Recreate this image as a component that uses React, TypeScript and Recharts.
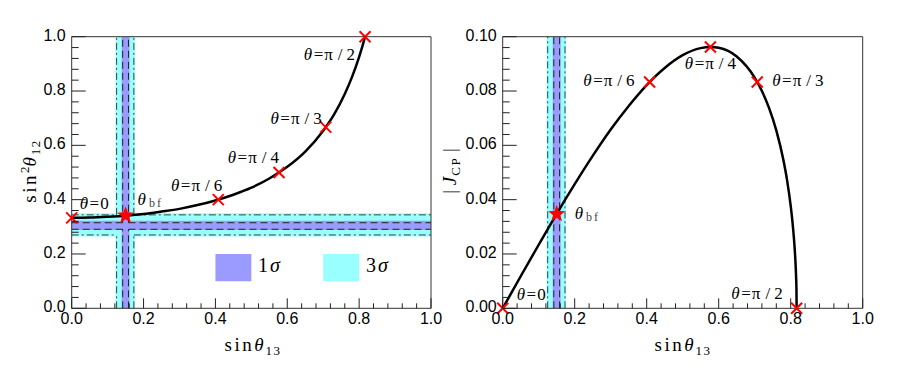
import React from "react"
import { ComposedChart, Line, Scatter, XAxis, YAxis, ReferenceArea, ReferenceLine } from "recharts"

// curve: TM2-like relation
const s13Left = [0, 0.05, 0.1, 0.15, 0.2, 0.25, 0.3, 0.35, 0.4, 0.45, 0.5, 0.55, 0.6, 0.65, 0.7, 0.73, 0.76, 0.78, 0.8, 0.81, 0.8165]
const s12sq = [0.333, 0.334, 0.337, 0.341, 0.347, 0.356, 0.366, 0.38, 0.397, 0.418, 0.444, 0.478, 0.521, 0.577, 0.654, 0.713, 0.789, 0.851, 0.926, 0.969, 1.0]

const s13Right = [0, 0.05, 0.1, 0.15, 0.2, 0.25, 0.3, 0.35, 0.4, 0.45, 0.5, 0.55, 0.577, 0.6, 0.65, 0.7, 0.72, 0.74, 0.76, 0.78, 0.79, 0.8, 0.805, 0.81, 0.813, 0.815, 0.816, 0.8165]
const jcp = [0, 0.0118, 0.0234, 0.0348, 0.0457, 0.0561, 0.0658, 0.0745, 0.0822, 0.0885, 0.0932, 0.0958, 0.0962, 0.0959, 0.0927, 0.0849, 0.08, 0.0737, 0.0655, 0.0544, 0.0471, 0.0377, 0.0317, 0.024, 0.0177, 0.0116, 0.0067, 0]

// marked theta values
const thetaNames = ["0", "π/6", "π/4", "π/3", "π/2"]
const thetaS13 = [0, 0.408, 0.577, 0.707, 0.8165]
const thetaS12sq = [0.333, 0.4, 0.5, 0.667, 1.0]
const thetaJ = [0, 0.0833, 0.0962, 0.0833, 0]

// best fit
const bfS13 = 0.15
const bfS12sq = 0.342
const bfJ = 0.0347

// experimental ranges: shaded regions and their contour lines
const s13Fill1 = [0.139, 0.161]
const s13Fill3 = [0.122, 0.176]
const s13Line1 = [0.142, 0.158]
const s13Line3 = [0.125, 0.173]
const s12Fill1 = [0.288, 0.322]
const s12Fill3 = [0.264, 0.35]
const s12Line1 = [0.291, 0.315]
const s12Line3 = [0.27, 0.344]

// ticks
const xMajor = [0, 0.2, 0.4, 0.6, 0.8, 1.0]
const xMinor = [0.04, 0.08, 0.12, 0.16, 0.24, 0.28, 0.32, 0.36, 0.44, 0.48, 0.52, 0.56, 0.64, 0.68, 0.72, 0.76, 0.84, 0.88, 0.92, 0.96]
const yLeftMajor = xMajor
const yLeftMinor = xMinor
const yRightMajor = [0, 0.02, 0.04, 0.06, 0.08, 0.1]
const yRightMinor = [0.004, 0.008, 0.012, 0.016, 0.024, 0.028, 0.032, 0.036, 0.044, 0.048, 0.052, 0.056, 0.064, 0.068, 0.072, 0.076, 0.084, 0.088, 0.092, 0.096]

const leftCurve = s13Left.map((x, i) => ({ x, y: s12sq[i] }))
const rightCurve = s13Right.map((x, i) => ({ x, y: jcp[i] }))
const leftPts = thetaNames.map((name, i) => ({ x: thetaS13[i], y: thetaS12sq[i], name }))
const rightPts = thetaNames.map((name, i) => ({ x: thetaS13[i], y: thetaJ[i], name }))

const PURPLE = "#9b9bff"
const CYAN = "#99ffff"
const EDGE = "#2b4747"
const SERIF = "'Liberation Serif', 'DejaVu Serif', serif"
const SANS = "'Liberation Sans', Arial, sans-serif"

// label placement relative to marker: dx, dy, anchor
const leftLayout = [
  { dx: 8, dy: -9, anchor: "start" },
  { dx: 4, dy: -9, anchor: "end" },
  { dx: 0, dy: -10, anchor: "end" },
  { dx: -4, dy: -3, anchor: "end" },
  { dx: -10, dy: 23, anchor: "end" },
]
const rightLayout = [
  { dx: 14, dy: -8, anchor: "start" },
  { dx: -15, dy: 4, anchor: "end" },
  { dx: 0, dy: 22, anchor: "middle" },
  { dx: 15, dy: 4, anchor: "start" },
  { dx: -14, dy: -9, anchor: "end" },
]

function ThetaText({ x, y, anchor, value }: any) {
  const parts = value.split("/")
  return (
    <text x={x} y={y} textAnchor={anchor} fontFamily={SERIF} fontSize={17} fill="#000">
      <tspan fontStyle="italic">θ</tspan>
      <tspan dx={1.5}>=</tspan>
      <tspan dx={1}>{parts[0]}</tspan>
      {parts.length > 1 && <tspan dx={5}>/</tspan>}
      {parts.length > 1 && <tspan dx={4}>{parts[1]}</tspan>}
    </text>
  )
}

function BfText({ x, y }: any) {
  return (
    <text x={x} y={y} fontFamily={SERIF} fontSize={17} fill="#000">
      <tspan fontStyle="italic">θ</tspan>
      <tspan dx={3} dy={2} fontSize={12} fill="#444" letterSpacing={2}>bf</tspan>
    </text>
  )
}

function Cross({ cx, cy }: any) {
  const r = 5.5
  return (
    <g stroke="#ff0000" strokeWidth={2}>
      <line x1={cx - r} y1={cy - r} x2={cx + r} y2={cy + r} />
      <line x1={cx - r} y1={cy + r} x2={cx + r} y2={cy - r} />
    </g>
  )
}

function Star({ cx, cy }: any) {
  const pts: string[] = []
  for (let k = 0; k < 10; k++) {
    const r = k % 2 === 0 ? 9 : 3.8
    const a = -Math.PI / 2 + (k * Math.PI) / 5
    pts.push(`${cx + r * Math.cos(a)},${cy + r * Math.sin(a)}`)
  }
  return <polygon points={pts.join(" ")} fill="#ff0000" />
}

function makePointShape(layout: any[]) {
  return (props: any) => {
    const { cx, cy, index } = props
    const l = layout[index]
    return (
      <g>
        <Cross cx={cx} cy={cy} />
        <ThetaText x={cx + l.dx} y={cy + l.dy} anchor={l.anchor} value={props.payload.name} />
      </g>
    )
  }
}

function makeTick(side: string, majors: number[], majorLen: number, minorLen: number, digits: number | null) {
  return (props: any) => {
    const { x, y, payload } = props
    const v = payload.value
    const major = majors.includes(v)
    const len = major ? majorLen : minorLen
    let line
    if (side === "bottom") line = <line x1={x} x2={x} y1={y} y2={y - len} />
    else if (side === "top") line = <line x1={x} x2={x} y1={y} y2={y + len} />
    else if (side === "left") line = <line x1={x} x2={x + len} y1={y} y2={y} />
    else line = <line x1={x} x2={x - len} y1={y} y2={y} />
    let label = null
    if (major && digits !== null) {
      if (side === "bottom")
        label = (
          <text x={x} y={y + 16} textAnchor="middle" fontFamily={SANS} fontSize={16} fill="#000" stroke="none">
            {v.toFixed(digits)}
          </text>
        )
      else
        label = (
          <text x={x - 6} y={y + 4} textAnchor="end" fontFamily={SANS} fontSize={16} fill="#000" stroke="none">
            {v.toFixed(digits)}
          </text>
        )
    }
    return (
      <g stroke="#222" strokeWidth={1}>
        {line}
        {label}
      </g>
    )
  }
}

const xTicks = [...xMajor, ...xMinor].sort((a, b) => a - b)
const yLTicks = [...yLeftMajor, ...yLeftMinor].sort((a, b) => a - b)
const yRTicks = [...yRightMajor, ...yRightMinor].sort((a, b) => a - b)

function Axes({ yTicks, yMajor, yDomain, yDigits }: any) {
  const axisLine = { stroke: "#333", strokeWidth: 1 }
  return [
    <XAxis key="xb" xAxisId={0} type="number" dataKey="x" domain={[0, 1]} ticks={xTicks} interval={0} height={1}
      tickSize={0} tickMargin={0} tickLine={false} axisLine={axisLine} tick={makeTick("bottom", xMajor, 10, 5, 1)} />,
    <XAxis key="xt" xAxisId="top" orientation="top" type="number" dataKey="x" domain={[0, 1]} ticks={xTicks} interval={0} height={1}
      tickSize={0} tickMargin={0} tickLine={false} axisLine={axisLine} tick={makeTick("top", xMajor, 10, 5, null)} />,
    <YAxis key="yl" yAxisId={0} type="number" domain={yDomain} ticks={yTicks} interval={0} width={1}
      tickSize={0} tickMargin={0} tickLine={false} axisLine={axisLine} tick={makeTick("left", yMajor, 14, 7, yDigits)} />,
    <YAxis key="yr" yAxisId="right" orientation="right" type="number" domain={yDomain} ticks={yTicks} interval={0} width={1}
      tickSize={0} tickMargin={0} tickLine={false} axisLine={axisLine} tick={makeTick("right", yMajor, 14, 7, null)} />,
  ]
}

function LeftPanel() {
  const [a1, b1] = s13Line1
  const [a3, b3] = s13Line3
  const [c1, d1] = s12Line1
  const [c3, d3] = s12Line3
  const dash = "7 4"
  const dashDot = "7 3 2 3"
  return (
    <ComposedChart width={450} height={372} margin={{ top: 35.7, right: 18, bottom: 62.7, left: 70.7 }}>
      {Axes({ yTicks: yLTicks, yMajor: yLeftMajor, yDomain: [0, 1], yDigits: 1 })}
      <ReferenceArea x1={0} x2={1} y1={s12Fill3[0]} y2={s12Fill3[1]} fill={CYAN} fillOpacity={1} stroke="none" />
      <ReferenceArea x1={s13Fill3[0]} x2={s13Fill3[1]} y1={0} y2={1} fill={CYAN} fillOpacity={1} stroke="none" />
      <ReferenceArea x1={0} x2={1} y1={s12Fill1[0]} y2={s12Fill1[1]} fill={PURPLE} fillOpacity={1} stroke="none" />
      <ReferenceArea x1={s13Fill1[0]} x2={s13Fill1[1]} y1={0} y2={1} fill={PURPLE} fillOpacity={1} stroke="none" />
      {/* outline of the union of both bands */}
      {[c3, d3].map((yv, i) => (
        <ReferenceLine key={"h3a" + i} segment={[{ x: 0, y: yv }, { x: a3, y: yv }]} stroke={EDGE} strokeDasharray={dashDot} />
      ))}
      {[c3, d3].map((yv, i) => (
        <ReferenceLine key={"h3b" + i} segment={[{ x: b3, y: yv }, { x: 1, y: yv }]} stroke={EDGE} strokeDasharray={dashDot} />
      ))}
      {[a3, b3].map((xv, i) => (
        <ReferenceLine key={"v3a" + i} segment={[{ x: xv, y: 0 }, { x: xv, y: c3 }]} stroke={EDGE} strokeDasharray={dashDot} />
      ))}
      {[a3, b3].map((xv, i) => (
        <ReferenceLine key={"v3b" + i} segment={[{ x: xv, y: d3 }, { x: xv, y: 1 }]} stroke={EDGE} strokeDasharray={dashDot} />
      ))}
      {[c1, d1].map((yv, i) => (
        <ReferenceLine key={"h1a" + i} segment={[{ x: 0, y: yv }, { x: a1, y: yv }]} stroke="#222" strokeDasharray={dash} />
      ))}
      {[c1, d1].map((yv, i) => (
        <ReferenceLine key={"h1b" + i} segment={[{ x: b1, y: yv }, { x: 1, y: yv }]} stroke="#222" strokeDasharray={dash} />
      ))}
      {[a1, b1].map((xv, i) => (
        <ReferenceLine key={"v1a" + i} segment={[{ x: xv, y: 0 }, { x: xv, y: c1 }]} stroke="#222" strokeDasharray={dash} />
      ))}
      {[a1, b1].map((xv, i) => (
        <ReferenceLine key={"v1b" + i} segment={[{ x: xv, y: d1 }, { x: xv, y: 1 }]} stroke="#222" strokeDasharray={dash} />
      ))}
      {/* legend boxes */}
      <ReferenceArea x1={0.4} x2={0.5} y1={0.1} y2={0.2} fill={PURPLE} fillOpacity={1} stroke="none" />
      <ReferenceArea x1={0.7} x2={0.8} y1={0.1} y2={0.2} fill={CYAN} fillOpacity={1} stroke="none" />
      <Line data={leftCurve} dataKey="y" type="monotoneX" stroke="#000" strokeWidth={2.5} dot={false} isAnimationActive={false} />
      <Scatter data={leftPts} dataKey="y" shape={makePointShape(leftLayout)} isAnimationActive={false} />
      <Scatter
        data={[{ x: bfS13, y: bfS12sq }]}
        dataKey="y"
        isAnimationActive={false}
        shape={(p: any) => (
          <g>
            <Star cx={p.cx} cy={p.cy} />
            <BfText x={p.cx + 12} y={p.cy - 10} />
          </g>
        )}
      />
    </ComposedChart>
  )
}

function RightPanel() {
  const [a1, b1] = s13Line1
  const [a3, b3] = s13Line3
  return (
    <ComposedChart width={449} height={372} margin={{ top: 35.7, right: 35.3, bottom: 62.7, left: 51.7 }}>
      {Axes({ yTicks: yRTicks, yMajor: yRightMajor, yDomain: [0, 0.1], yDigits: 2 })}
      <ReferenceArea x1={s13Fill3[0]} x2={s13Fill3[1]} y1={0} y2={0.1} fill={CYAN} fillOpacity={1} stroke="none" />
      <ReferenceArea x1={s13Fill1[0]} x2={s13Fill1[1]} y1={0} y2={0.1} fill={PURPLE} fillOpacity={1} stroke="none" />
      {[a3, b3].map((xv, i) => (
        <ReferenceLine key={"v3" + i} x={xv} stroke={EDGE} strokeDasharray="7 3 2 3" />
      ))}
      {[a1, b1].map((xv, i) => (
        <ReferenceLine key={"v1" + i} x={xv} stroke="#222" strokeDasharray="7 4" />
      ))}
      <Line data={rightCurve} dataKey="y" type="monotoneX" stroke="#000" strokeWidth={2.5} dot={false} isAnimationActive={false} />
      <Scatter data={rightPts} dataKey="y" shape={makePointShape(rightLayout)} isAnimationActive={false} />
      <Scatter
        data={[{ x: bfS13, y: bfJ }]}
        dataKey="y"
        isAnimationActive={false}
        shape={(p: any) => (
          <g>
            <Star cx={p.cx} cy={p.cy} />
            <BfText x={p.cx + 18} y={p.cy + 5} />
          </g>
        )}
      />
    </ComposedChart>
  )
}

function Titles() {
  return (
    <svg width={899} height={372} style={{ position: "absolute", left: 0, top: 0, pointerEvents: "none" }}>
      <g fontFamily={SERIF} fill="#000">
        <text x={253} y={351} textAnchor="middle" fontSize={19}>
          <tspan letterSpacing={2.5}>sin</tspan>
          <tspan fontStyle="italic">θ</tspan>
          <tspan dx={2} dy={4} fontSize={13} letterSpacing={1.5}>13</tspan>
        </text>
        <text x={683} y={351} textAnchor="middle" fontSize={19}>
          <tspan letterSpacing={2.5}>sin</tspan>
          <tspan fontStyle="italic">θ</tspan>
          <tspan dx={2} dy={4} fontSize={13} letterSpacing={1.5}>13</tspan>
        </text>
        <text transform="translate(36,171) rotate(-90)" textAnchor="middle" fontSize={19}>
          <tspan letterSpacing={2.5}>sin</tspan>
          <tspan dy={-7} fontSize={13}>2</tspan>
          <tspan dy={7} fontStyle="italic">θ</tspan>
          <tspan dx={2} dy={4} fontSize={13} letterSpacing={1.5}>12</tspan>
        </text>
        <text transform="translate(456,171) rotate(-90)" textAnchor="middle" fontSize={19}>
          <tspan>| </tspan>
          <tspan fontStyle="italic">J</tspan>
          <tspan dx={1} dy={4} fontSize={13} letterSpacing={1.5}>CP</tspan>
          <tspan dy={-4}> |</tspan>
        </text>
        <text x={258} y={272} fontSize={20}>
          1<tspan dx={2} fontStyle="italic">σ</tspan>
        </text>
        <text x={366} y={272} fontSize={20}>
          3<tspan dx={2} fontStyle="italic">σ</tspan>
        </text>
      </g>
    </svg>
  )
}

export default function App() {
  return (
    <div style={{ position: "absolute", left: 0, top: 0, width: 899, height: 372, background: "#fff" }}>
      <div style={{ position: "absolute", left: 0, top: 0 }}>
        <LeftPanel />
      </div>
      <div style={{ position: "absolute", left: 450, top: 0 }}>
        <RightPanel />
      </div>
      <Titles />
    </div>
  )
}
